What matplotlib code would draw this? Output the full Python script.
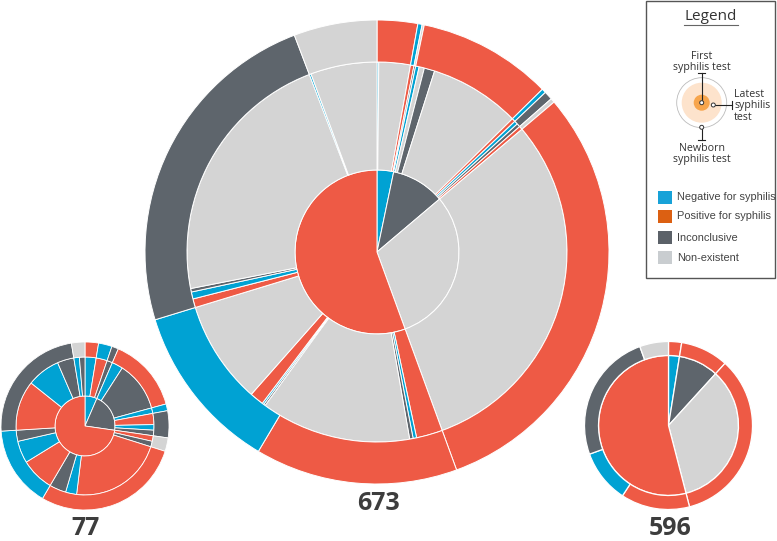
import matplotlib.pyplot as plt
from matplotlib.patches import Circle, Rectangle

W, H = 777, 541

COLORS = {'N': '#00a2d3', 'P': '#ee5a45', 'I': '#5e656c', 'X': '#d4d4d4'}

# N = negative, P = positive, I = inconclusive, X = non-existent
# 673 pregnancies, clockwise from 12 o'clock: first test, latest test, newborn test
big_first = ['N', 'N', 'N', 'N',
             'I', 'I', 'I', 'I', 'I', 'I', 'I', 'I',
             'X',
             'P', 'P', 'P', 'P', 'P', 'P', 'P', 'P', 'P', 'P', 'P', 'P', 'P', 'P', 'P']
big_latest = ['N', 'X', 'P', 'I',
              'N', 'X', 'I', 'X', 'P', 'N', 'I', 'P',
              'X',
              'P', 'N', 'I', 'X', 'X', 'I', 'N', 'P', 'X', 'P', 'N', 'I', 'X', 'N', 'X']
big_newborn = ['P', 'P', 'N', 'X',
               'P', 'P', 'P', 'P', 'N', 'I', 'I', 'X',
               'P',
               'P', 'P', 'P', 'P', 'N', 'N', 'N', 'N', 'N', 'I', 'I', 'I', 'I', 'X', 'X']
big_count = [1, 18, 2, 1,
             2, 3, 6, 52, 2, 2, 2, 2,
             206,
             15, 2, 2, 76, 10, 1, 1, 8, 59, 5, 4, 2, 150, 1, 38]

# 77 pregnancies
left_first = ['N', 'N', 'N',
              'I', 'I', 'I', 'I', 'I', 'I',
              'P', 'P', 'P', 'P', 'P', 'P', 'P', 'P', 'P', 'P', 'P', 'P', 'P']
left_latest = ['N', 'P', 'I',
               'N', 'I', 'N', 'P', 'N', 'I',
               'P', 'I', 'P', 'N', 'I', 'P', 'N', 'I', 'P', 'N', 'I', 'N', 'I']
left_newborn = ['P', 'N', 'I',
                'P', 'P', 'N', 'I', 'I', 'I',
                'X', 'X', 'P', 'P', 'P', 'N', 'N', 'N', 'I', 'I', 'I', 'X', 'X']
left_count = [2, 2, 1,
              2, 9, 1, 2, 1, 1,
              1, 1, 17, 2, 3, 6, 4, 2, 9, 6, 3, 1, 1]

# 596 pregnancies: first test, newborn test
right_first = ['N', 'I', 'X', 'P', 'P', 'P', 'P']
right_newborn = ['P', 'P', 'P', 'P', 'N', 'I', 'X']
right_count = [15, 55, 204, 79, 61, 149, 33]

legend_labels = ['Negative for syphilis', 'Positive for syphilis', 'Inconclusive', 'Non-existent']
legend_colors = ['#17a2d8', '#dc6012', '#5b6168', '#c9cdd0']


def group(keys, counts):
    labels, sizes = [], []
    for k, c in zip(keys, counts):
        if labels and labels[-1] == k:
            sizes[-1] += c
        else:
            labels.append(k)
            sizes.append(c)
    return labels, sizes


def sunburst(fig, cx, cy, radii, rings, counts, lw=0.7):
    # rings: for each ring, the list of levels whose combination makes a segment
    pad = radii[-1] + 4
    ax = fig.add_axes([(cx - pad) / W, 1 - (cy + pad) / H, 2 * pad / W, 2 * pad / H])
    inner = 0
    for r, levels in zip(radii, rings):
        labels, sizes = group(list(zip(*levels)), counts)
        ax.pie(sizes, radius=r, colors=[COLORS[k[-1]] for k in labels],
               startangle=90, counterclock=False,
               wedgeprops=dict(width=r - inner, edgecolor='white', linewidth=lw))
        inner = r
    ax.set_xlim(-pad, pad)
    ax.set_ylim(-pad, pad)
    ax.set_aspect('equal')
    ax.axis('off')
    return ax


fig = plt.figure(figsize=(W / 100, H / 100), dpi=100)
ax0 = fig.add_axes([0, 0, 1, 1])
ax0.set_xlim(0, W)
ax0.set_ylim(H, 0)
ax0.axis('off')

sunburst(fig, 377, 252, [82, 190, 232],
         [[big_first], [big_first, big_latest], [big_first, big_newborn]], big_count)
sunburst(fig, 85, 426, [30, 69, 84],
         [[left_first], [left_first, left_latest], [left_first, left_newborn]], left_count, lw=0.6)
sunburst(fig, 668.5, 425.5, [70, 84],
         [[right_first], [right_first, right_newborn]], right_count, lw=0.9)

num_font = dict(fontsize=18, fontweight='bold', family='Open Sans', color='#3d3d3d',
                ha='center')
ax0.text(85, 540.8, '77', va='bottom', **num_font)
ax0.text(379, 510, '673', va='baseline', **num_font)
ax0.text(670, 540.8, '596', va='bottom', **num_font)

# legend box
ax0.add_patch(Rectangle((646, 1), 129, 277, facecolor='white', edgecolor='#555555', lw=1))
ax0.text(711, 19.5, 'Legend', fontsize=11, family='Open Sans', color='#333333',
         ha='center', va='baseline')
ax0.plot([684, 738], [24.5, 24.5], color='#666666', lw=0.8)

lx, ly = 701.7, 102.7
ax0.add_patch(Circle((lx, ly), 25, facecolor='none', edgecolor='#bbbbbb', lw=0.6))
ax0.add_patch(Circle((lx, ly), 20, facecolor='#fde3cc', edgecolor='none'))
ax0.add_patch(Circle((lx, ly), 8, facecolor='#f7a54c', edgecolor='none'))

line_kw = dict(color='#222222', lw=0.8)
# first
ax0.plot([lx, lx], [ly, 73.3], **line_kw)
ax0.plot([lx - 3.5, lx + 3.5], [73.3, 73.3], **line_kw)
# latest
ax0.plot([713.3, 732], [105, 105], **line_kw)
ax0.plot([732, 732], [101, 109], **line_kw)
# newborn
ax0.plot([lx, lx], [127.3, 140], **line_kw)
ax0.plot([lx - 3.5, lx + 3.5], [140, 140], **line_kw)
for mx, my in [(lx, ly), (713.3, 105), (lx, 127.3)]:
    ax0.add_patch(Circle((mx, my), 2, facecolor='white', edgecolor='#333333', lw=0.7, zorder=5))

small = dict(fontsize=7.7, family='Open Sans', color='#333333', va='baseline')
for txt, y in [('First', 59), ('syphilis test', 70)]:
    ax0.text(lx, y, txt, ha='center', **small)
for txt, y in [('Latest', 96.7), ('syphilis', 108.3), ('test', 120)]:
    ax0.text(734.3, y, txt, ha='left', **small)
for txt, y in [('Newborn', 151), ('syphilis test', 162.3)]:
    ax0.text(lx, y, txt, ha='center', **small)

box_tops = [190.7, 210, 231, 250.5]
text_base = [200, 219, 241, 261]
for lab, col, top, base in zip(legend_labels, legend_colors, box_tops, text_base):
    ax0.add_patch(Rectangle((658.3, top), 13.4, 13.4, facecolor=col, edgecolor='none'))
    ax0.text(677.3, base, lab, fontsize=7.9, family='Liberation Sans', color='#444444',
             ha='left', va='baseline')

fig.savefig('out.png', dpi=100)
